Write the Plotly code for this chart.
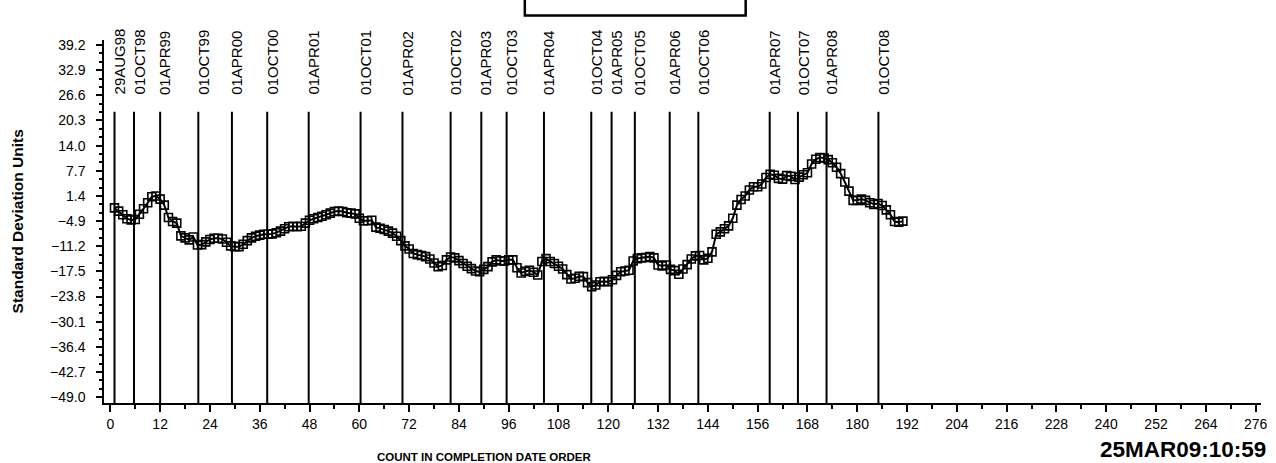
import plotly.graph_objects as go

# Standardised values, one per completion (count order)
sd_units = [
    -1.6, -2.4, -3.3, -4.3, -4.6, -4.5, -3.2, -1.8, -0.3, 1.2,
    1.4, 0.6, -0.9, -4.0, -5.0, -5.4, -8.6, -9.1, -9.6, -8.9,
    -10.9, -10.8, -10.1, -9.5, -9.2, -9.2, -9.4, -10.2, -11.1, -11.3,
    -11.3, -10.7, -9.8, -9.1, -8.7, -8.4, -8.2, -8.2, -8.1, -7.8,
    -7.4, -6.8, -6.3, -6.2, -6.3, -6.2, -5.4, -4.7, -4.3, -4.0,
    -3.7, -3.3, -2.9, -2.5, -2.4, -2.5, -2.8, -2.9, -3.1, -4.2,
    -4.8, -4.8, -4.7, -6.4, -6.7, -7.0, -7.4, -7.9, -8.7, -9.8,
    -11.1, -11.9, -13.0, -13.3, -13.5, -13.8, -14.4, -15.4, -16.3, -16.0,
    -14.6, -13.9, -14.1, -14.8, -15.5, -16.2, -16.8, -17.4, -17.6, -17.0,
    -16.3, -15.1, -14.6, -14.9, -14.9, -14.6, -14.6, -16.6, -17.9, -17.5,
    -17.2, -17.7, -18.4, -15.0, -14.3, -15.0, -15.5, -16.2, -16.9, -18.3,
    -19.4, -19.2, -18.7, -18.8, -20.3, -21.3, -20.9, -20.1, -20.0, -20.1,
    -19.6, -18.5, -17.6, -17.4, -17.2, -14.9, -14.3, -14.1, -14.0, -13.8,
    -14.1, -15.9, -16.1, -15.9, -17.0, -17.3, -18.2, -16.9, -15.8, -14.4,
    -13.6, -13.5, -14.6, -14.2, -12.6, -8.2, -7.6, -6.8, -6.1, -4.2,
    -0.9, 0.5, 1.4, 2.9, 3.7, 3.7, 4.4, 6.0, 6.8, 6.6,
    5.8, 5.6, 6.5, 6.3, 5.5, 6.1, 6.7, 7.2, 9.4, 10.6,
    11.0, 10.9, 10.5, 9.7, 8.6, 7.0, 4.9, 2.6, 0.3, 0.3,
    0.6, 0.3, -0.3, -0.7, -0.5, -1.0, -2.1, -3.3, -5.0, -5.2,
    -4.9,
]
count = list(range(1, len(sd_units) + 1))

# Reference dates and the count position where each falls
ref_dates = [
    "29AUG98", "01OCT98", "01APR99", "01OCT99", "01APR00", "01OCT00",
    "01APR01", "01OCT01", "01APR02", "01OCT02", "01APR03", "01OCT03",
    "01APR04", "01OCT04", "01APR05", "01OCT05", "01APR06", "01OCT06",
    "01APR07", "01OCT07", "01APR08", "01OCT08",
]
ref_counts = [
    1, 5.7, 12, 21.2, 29.3, 37.8,
    47.8, 60.3, 70.4, 82, 89.4, 95.5,
    104.5, 115.9, 120.8, 126.4, 134.8, 141.7,
    158.9, 165.7, 172.6, 185.1,
]

x_ticks = list(range(0, 277, 12))
y_ticks = [-49.0, -42.7, -36.4, -30.1, -23.8, -17.5, -11.2, -4.9,
           1.4, 7.7, 14.0, 20.3, 26.6, 32.9, 39.2]

W, H = 1276, 463
ML, MR, MT, MB = 104, 9, 40, 60
PW, PH = W - ML - MR, H - MT - MB


def px_x(px):
    return (px - ML) / PW


def px_y(py):
    return (H - MB - py) / PH


FONT = "Liberation Sans, Arial, sans-serif"

fig = go.Figure()
fig.add_trace(go.Scatter(
    x=count, y=sd_units, mode="lines+markers",
    line=dict(color="black", width=2),
    marker=dict(symbol="square-open", size=8, color="black",
                line=dict(color="black", width=1.6)),
    showlegend=False, cliponaxis=False,
))

shapes = []
annotations = []
for d, c in zip(ref_dates, ref_counts):
    shapes.append(dict(type="line", xref="x", yref="y", x0=c, x1=c,
                       y0=-50.45, y1=22.5,
                       line=dict(color="black", width=2)))
    annotations.append(dict(x=c, y=26.2, xref="x", yref="y", text=d,
                            textangle=-90, showarrow=False,
                            xanchor="center", yanchor="bottom", xshift=5,
                            font=dict(family=FONT, size=15, color="black")))

# framed title box at the top edge
shapes.append(dict(type="rect", xref="paper", yref="paper",
                   x0=px_x(527), x1=px_x(749), y0=px_y(15.5), y1=px_y(-10),
                   line=dict(color="black", width=2.5)))

annotations.append(dict(x=px_x(17), y=px_y(221), xref="paper", yref="paper",
                        text="<b>Standard Deviation Units</b>", textangle=-90,
                        showarrow=False, xanchor="center", yanchor="middle",
                        font=dict(family=FONT, size=15.5, color="black")))
annotations.append(dict(x=px_x(486), y=px_y(457), xref="paper", yref="paper",
                        text="<b>COUNT IN COMPLETION DATE ORDER</b>",
                        showarrow=False, xanchor="center", yanchor="middle",
                        font=dict(family=FONT, size=11.5, color="black")))
annotations.append(dict(x=px_x(1274), y=px_y(449), xref="paper", yref="paper",
                        text="<b>25MAR09:10:59</b>",
                        showarrow=False, xanchor="right", yanchor="middle",
                        font=dict(family=FONT, size=22.5, color="black")))

fig.update_layout(
    width=W, height=H,
    margin=dict(l=ML, r=MR, t=MT, b=MB),
    plot_bgcolor="white", paper_bgcolor="white",
    font=dict(family=FONT, size=14, color="black"),
    shapes=shapes, annotations=annotations,
    xaxis=dict(
        range=[-1.53, 277.3], tickvals=x_ticks,
        ticktext=[str(t) for t in x_ticks],
        showgrid=False, zeroline=False, showline=True,
        linecolor="black", linewidth=1.5,
        ticks="outside", ticklen=7, tickwidth=1.5, tickcolor="black",
        minor=dict(dtick=6, tick0=0, ticks="outside", ticklen=4,
                   tickwidth=1.5, tickcolor="black", showgrid=False),
        tickfont=dict(family=FONT, size=14),
    ),
    yaxis=dict(
        range=[-50.45, 40.45], tickvals=y_ticks,
        ticktext=[f"{v:.1f}".replace("-", "\u2212") for v in y_ticks],
        showgrid=False, zeroline=False, showline=True,
        linecolor="black", linewidth=1.5,
        ticks="outside", ticklen=6, tickwidth=1.5, tickcolor="black",
        ticklabelstandoff=8,
        minor=dict(dtick=2.1, tick0=-49.0, ticks="outside", ticklen=3,
                   tickwidth=1.5, tickcolor="black", showgrid=False),
        tickfont=dict(family=FONT, size=14),
    ),
)

fig.write_html("out.html")
